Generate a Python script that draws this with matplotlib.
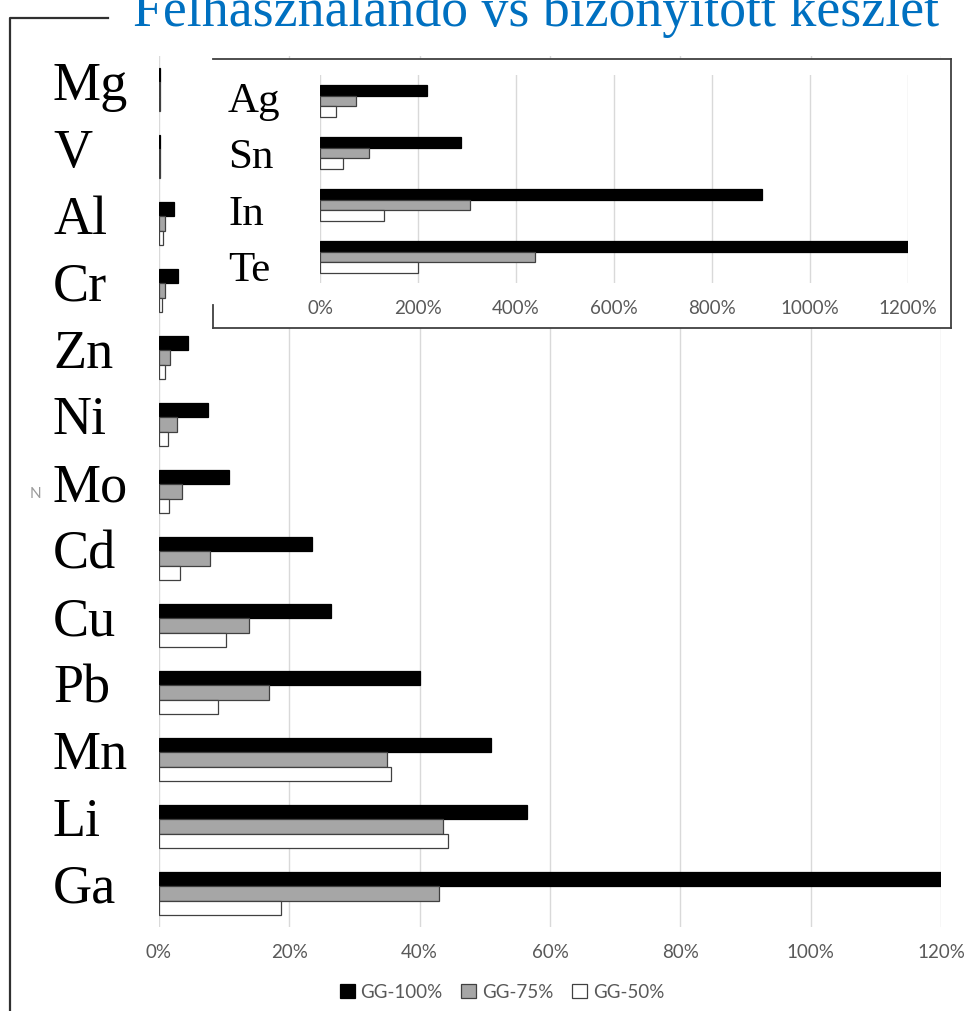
import matplotlib
matplotlib.use("Agg")
import matplotlib.pyplot as plt
from matplotlib.lines import Line2D
from matplotlib.patches import Patch
import numpy as np

# main chart data (fractions, 1.0 = 100%)
elements = ["Mg", "V", "Al", "Cr", "Zn", "Ni", "Mo", "Cd", "Cu", "Pb", "Mn", "Li", "Ga"]
gg100 = [0.001, 0.001, 0.023, 0.029, 0.045, 0.075, 0.107, 0.235, 0.264, 0.40, 0.51, 0.565, 1.20]
gg75 = [0.001, 0.001, 0.009, 0.009, 0.017, 0.028, 0.035, 0.078, 0.138, 0.169, 0.35, 0.436, 0.43]
gg50 = [0.001, 0.001, 0.006, 0.005, 0.009, 0.014, 0.015, 0.032, 0.103, 0.091, 0.356, 0.444, 0.187]

# inset data
inset_elements = ["Ag", "Sn", "In", "Te"]
inset_gg100 = [2.19, 2.87, 9.02, 12.0]
inset_gg75 = [0.74, 1.01, 3.06, 4.39]
inset_gg50 = [0.33, 0.46, 1.31, 1.99]

series_names = ["GG-100%", "GG-75%", "GG-50%"]
title = "Felhasználandó vs bizonyított készlet"

W, H = 968, 1011
fig = plt.figure(figsize=(W / 100, H / 100), dpi=100)


def fx(px):
    return px / W


def fy(py):
    return 1 - py / H


tick_font = "Lato"
serif = "Liberation Serif"
face = ["black", "#A6A6A6", "white"]
edge = ["black", "#404040", "#404040"]


def draw_bars(ax, vals, bar_h):
    y = np.arange(len(vals[0]))
    offs = [-bar_h, 0, bar_h]
    for v, o, fc, ec in zip(vals, offs, face, edge):
        ax.barh(y + o, v, height=bar_h, color=fc, edgecolor=ec, linewidth=0.9, zorder=3)


# main axes
ax = fig.add_axes([fx(159), fy(927), fx(941) - fx(159), fy(56) - fy(927)])
draw_bars(ax, [gg100, gg75, gg50], 0.21)
ax.set_ylim(len(elements) - 0.5, -0.5)
ax.set_xlim(0, 1.2)
ax.set_xticks(np.arange(0, 1.21, 0.2))
ax.set_xticklabels([f"{int(round(t * 100))}%" for t in np.arange(0, 1.21, 0.2)],
                   fontsize=13.5, color="#595959", family=tick_font)
ax.tick_params(axis="x", length=0, pad=12)
ax.set_yticks([])
ax.grid(axis="x", color="#D9D9D9", linewidth=1, zorder=0)
for s in ax.spines.values():
    s.set_visible(False)
ax.set_zorder(0)

for i, name in enumerate(elements):
    fig.text(fx(53), fy(100 + 66.9 * i), name, family=serif, fontsize=39,
             color="black", ha="left", va="baseline")

# white panel behind the inset
fr = fig.add_axes([fx(213), fy(328), fx(951) - fx(213), fy(59) - fy(328)])
fr.set_xlim(0, 1)
fr.set_ylim(0, 1)
fr.set_xticks([])
fr.set_yticks([])
fr.set_facecolor("white")
for s in fr.spines.values():
    s.set_color("#404040")
    s.set_linewidth(1.3)
fr.spines["left"].set_bounds(0, (328 - 305) / (328 - 59))
fr.set_zorder(1)

# inset axes
ins = fig.add_axes([fx(320), fy(283), fx(908) - fx(320), fy(75) - fy(283)])
draw_bars(ins, [inset_gg100, inset_gg75, inset_gg50], 0.21)
ins.set_ylim(len(inset_elements) - 0.5, -0.5)
ins.set_xlim(0, 12)
ins.set_xticks(np.arange(0, 12.1, 2))
ins.set_xticklabels([f"{int(t * 100)}%" for t in np.arange(0, 12.1, 2)],
                    fontsize=13.5, color="#595959", family=tick_font)
ins.tick_params(axis="x", length=0, pad=12)
ins.set_yticks([])
ins.grid(axis="x", color="#D9D9D9", linewidth=1, zorder=0)
for s in ins.spines.values():
    s.set_visible(False)
ins.patch.set_alpha(0)
ins.set_zorder(2)

for i, name in enumerate(inset_elements):
    fig.text(fx(228), fy(112 + 56.3 * i), name, family=serif, fontsize=31,
             color="black", ha="left", va="baseline", zorder=5)

# title (cut at the top edge like the source)
fig.text(fx(133), fy(26), title, family=serif, fontsize=38.7, color="#0070C0",
         ha="left", va="baseline")

# outer frame fragment
fig.add_artist(Line2D([fx(10), fx(10), fx(108)], [0, fy(18), fy(18)],
                      color="#303030", linewidth=1.6))

# faint stray letter at the left
fig.text(fx(30), fy(498), "N", family=tick_font, fontsize=11, color="#9A9A9A")

handles = [Patch(facecolor=f, edgecolor=e, linewidth=0.9) for f, e in zip(face, edge)]
fig.legend(handles, series_names, loc="center", bbox_to_anchor=(fx(502), fy(992)),
           ncol=3, frameon=False, handlelength=0.8, handleheight=0.8,
           handletextpad=0.3, columnspacing=1.0,
           prop={"family": tick_font, "size": 13.5}, labelcolor="#595959")

fig.savefig("out.png", dpi=100)
